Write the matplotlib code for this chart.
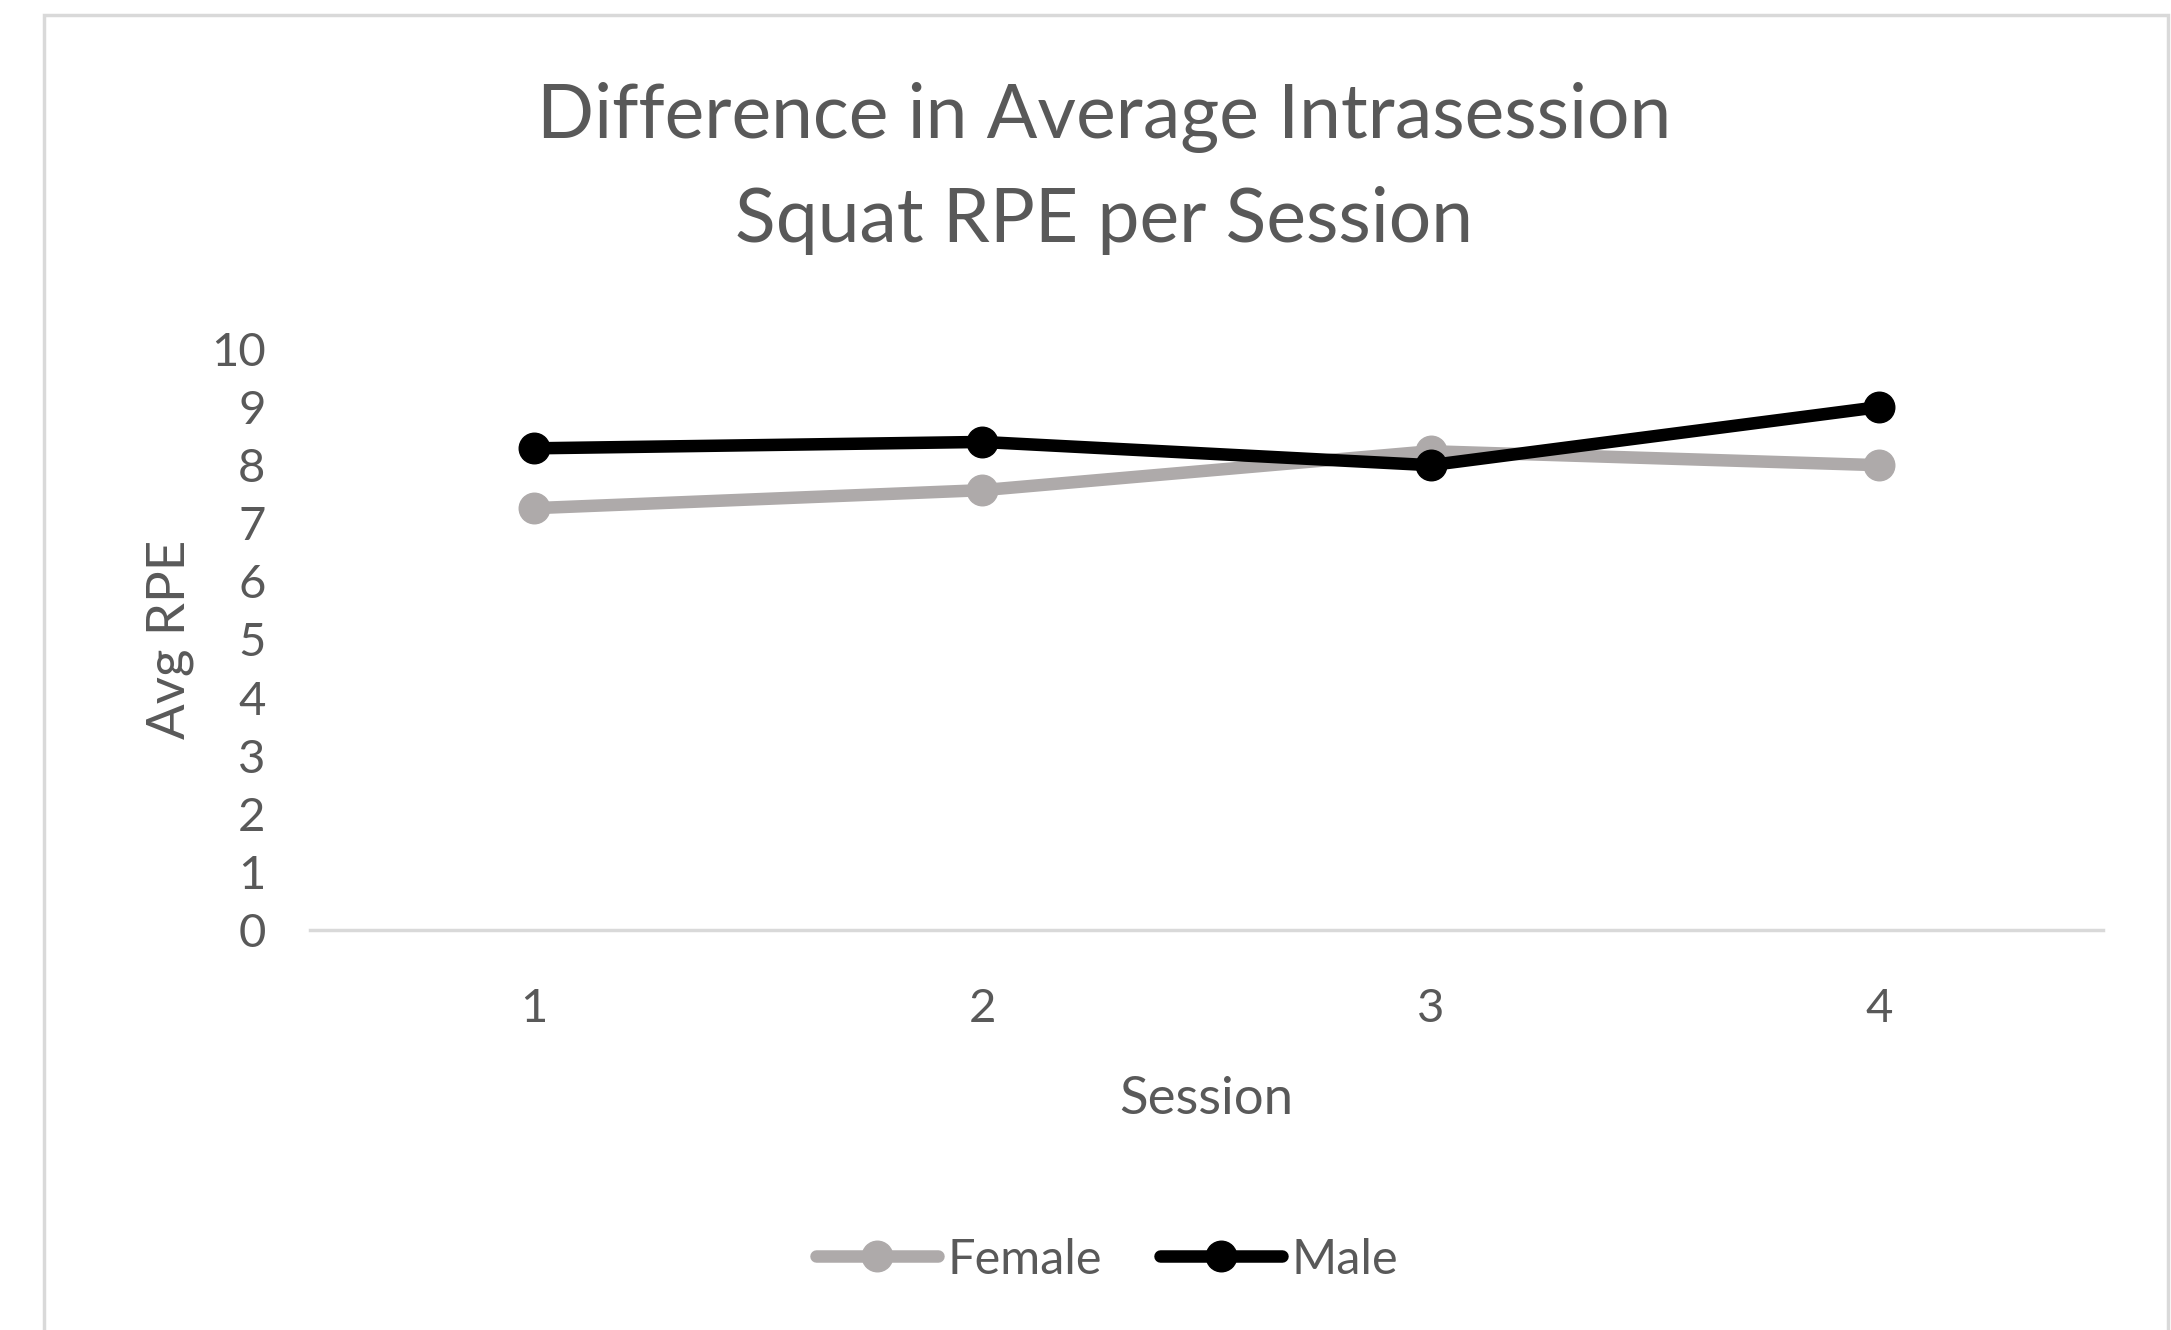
import matplotlib
matplotlib.use("Agg")
import matplotlib.pyplot as plt
from matplotlib.patches import Rectangle

sessions = [1, 2, 3, 4]
female_rpe = [7.26, 7.57, 8.24, 8.0]
male_rpe = [8.29, 8.40, 8.0, 9.0]
y_ticks = list(range(0, 11))

plt.rcParams['font.family'] = ['Lato', 'DejaVu Sans']
text_color = '#595959'

fig = plt.figure(figsize=(21.71, 13.30), dpi=100)
ax = fig.add_axes([0.1428, 0.3008, 0.8259, 0.4368])

# outer chart border
fig.patches.append(Rectangle((44 / 2171, -0.1), (2168 - 44) / 2171, 1.1 - 15 / 1330,
                             transform=fig.transFigure, fill=False,
                             edgecolor='#D9D9D9', linewidth=2.5))

ax.plot(sessions, female_rpe, color='#AEAAAA', lw=9, marker='o', ms=22,
        label='Female', solid_capstyle='round')
ax.plot(sessions, male_rpe, color='#000000', lw=9, marker='o', ms=22,
        label='Male', solid_capstyle='round')

ax.set_xlim(0.5, 4.5)
ax.set_ylim(0, 10)
ax.set_xticks(sessions)
ax.set_yticks(y_ticks)
ax.tick_params(length=0, labelsize=34, labelcolor=text_color)
ax.tick_params(axis='x', pad=42)
ax.tick_params(axis='y', pad=32)
for s in ['top', 'right', 'left']:
    ax.spines[s].set_visible(False)
ax.spines['bottom'].set_color('#D9D9D9')
ax.spines['bottom'].set_linewidth(2.5)

ax.set_xlabel('Session', fontsize=38, color=text_color, labelpad=33)
ax.set_ylabel('Avg RPE', fontsize=38, color=text_color, labelpad=12)

fig.text(0.5085, 0.873, 'Difference in Average Intrasession\nSquat RPE per Session',
         ha='center', va='center', fontsize=54, color=text_color, linespacing=1.59)

leg = ax.legend(loc='center', bbox_to_anchor=(0.51, 0.053), bbox_transform=fig.transFigure,
                ncol=2, frameon=False, fontsize=35, handlelength=2.5,
                handletextpad=0.2, columnspacing=1.2)
for t in leg.get_texts():
    t.set_color(text_color)

fig.savefig('out.png', dpi=100, facecolor='white')
